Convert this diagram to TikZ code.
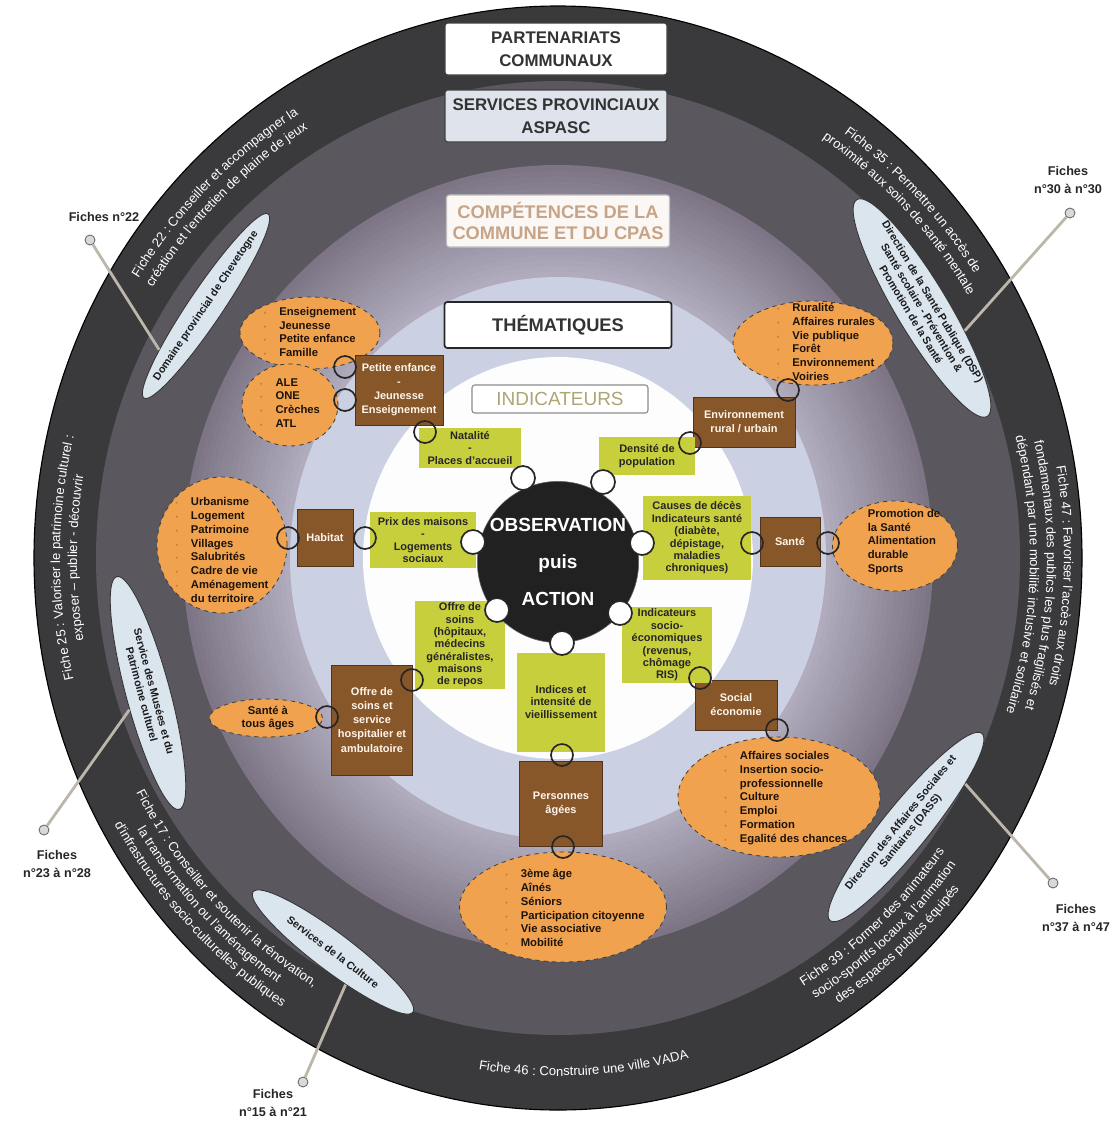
\documentclass[tikz,border=0pt]{standalone}
\usepackage{fontspec}
\setmainfont{Liberation Sans}
\usetikzlibrary{shapes.geometric}
\usetikzlibrary{decorations.text}

\definecolor{outerring}{HTML}{3A3A3D}
\definecolor{provring}{HTML}{5A585E}
\definecolor{compout}{HTML}{7D7586}
\definecolor{compin}{HTML}{B3AFC0}
\definecolor{themring}{HTML}{CBD0E2}
\definecolor{orangeell}{HTML}{F0A24F}
\definecolor{brownbox}{HTML}{87572A}
\definecolor{greenbox}{HTML}{C8CF3D}
\definecolor{bluesvc}{HTML}{DAE5EE}
\definecolor{svcgray}{HTML}{DFE4EC}
\definecolor{comptext}{HTML}{C7A487}
\definecolor{indictext}{HTML}{AEA574}
\definecolor{pincol}{HTML}{BDB6AA}
\definecolor{bulletc}{HTML}{C08040}

\newcommand{\pxu}{0.025cm}
\newcommand{\listfont}{\bfseries\fontsize{8}{9.8}\selectfont}
\newcommand{\boxfont}{\bfseries\fontsize{7.8}{10}\selectfont}
\newcommand{\greenfont}{\bfseries\fontsize{7.8}{8.8}\selectfont}
\newcommand{\svcfont}{\bfseries\fontsize{7.6}{9}\selectfont}
\newcommand{\pinfont}{\bfseries\fontsize{9}{13}\selectfont}
\newcommand{\fichefont}{\fontsize{9.3}{11}\selectfont}
\newcommand{\itm}[1]{\makebox[11pt][l]{\textcolor{bulletc}{\fontsize{5}{5}\selectfont\textbullet}}#1}
\newcommand{\fichearc}[5]{\path[decorate, decoration={text along path, text align=center, text={|\fichefont\color{white}|#5}}] (#1:#3 and #4) arc[start angle=#1, end angle=#2, x radius=#3, y radius=#4];}

\tikzset{
  wd/.style={minimum width=#1*\pxu},
  ht/.style={minimum height=#1*\pxu},
  hdbox/.style={draw=black!75, line width=0.8pt, rounded corners=2pt, inner sep=0pt, align=center, text=black!80, font=\bfseries\fontsize{12}{16}\selectfont},
  orell/.style={ellipse, draw=black!75, dashed, line width=0.6pt, fill=orangeell, inner sep=0pt},
  orlist/.style={align=left, inner sep=0pt, text=black!85!brown, font=\listfont},
  brbox/.style={rectangle, draw=brownbox!60!black, line width=0.6pt, fill=brownbox, align=center, inner sep=1pt, text=white!92!orange, font=\boxfont},
  grbox/.style={rectangle, fill=greenbox, align=center, inner sep=1pt, text=black!85, font=\greenfont},
  lnk/.style={circle, draw=black!85, line width=1.2pt, minimum size=22*\pxu, inner sep=0pt},
  wdot/.style={circle, draw=black!85, fill=white, line width=1.2pt, minimum size=24*\pxu, inner sep=0pt},
  svcell/.style={ellipse, draw=black!80, line width=0.6pt, fill=bluesvc, inner sep=0pt},
  svctext/.style={align=center, inner sep=0pt, text=black!90, font=\svcfont},
  pinlbl/.style={align=center, inner sep=0pt, text=black!85, font=\pinfont},
  pinline/.style={line width=2pt, draw=pincol},
  pinhead/.style={circle, draw=black!60, fill=black!15, line width=0.6pt, minimum size=10*\pxu, inner sep=0pt}
}

\begin{document}
\begin{tikzpicture}[x=0.025cm, y=-0.025cm]
\useasboundingbox (0,0) rectangle (1113,1126);
\fill[white] (0,0) rectangle (1113,1126);

% rings
\filldraw[fill=outerring, draw=black, line width=0.8pt] (558,558) ellipse [x radius=524, y radius=552];
\fill[provring] (558,558) ellipse [x radius=462, y radius=477];
\foreach \k in {0,...,19} {
  \pgfmathsetmacro{\rxk}{375-5.35*\k}
  \pgfmathsetmacro{\ryk}{393-5.6*\k}
  \pgfmathtruncatemacro{\mk}{5*\k}
  \fill[compin!\mk!compout] (558,558) ellipse [x radius=\rxk, y radius=\ryk];
}
\fill[themring] (558,558) ellipse [x radius=268, y radius=281];
\fill[white!96!themring] (558,558) ellipse [x radius=195, y radius=201];

% fiches on the outer ring
\begin{scope}[shift={(558,558)}, y=0.025cm]
  \fichearc{172}{96}{498}{519}{Fiche 22 : Conseiller et accompagner la}
  \fichearc{172}{96}{481}{502}{création et l'entretien de plaine de jeux}
  \fichearc{82}{7}{498}{519}{Fiche 35 : Permettre un accès de}
  \fichearc{82}{7}{481}{502}{proximité aux soins de santé mentale}
  \fichearc{30}{-34}{506}{527}{Fiche 47 : Favoriser l'accès aux droits}
  \fichearc{30}{-34}{489}{510}{fondamentaux des publics les plus fragilisés et}
  \fichearc{30}{-34}{472}{493}{dépendant par une mobilité inclusive et solidaire}
  \fichearc{215}{145}{498}{519}{Fiche 25 : Valoriser le patrimoine culturel :}
  \fichearc{215}{145}{481}{502}{exposer – publier - découvrir}
  \fichearc{186}{262}{478}{499}{Fiche 17 : Conseiller et soutenir la rénovation,}
  \fichearc{186}{262}{495}{516}{la transformation ou l'aménagement}
  \fichearc{186}{262}{512}{533}{d'infrastructures socio-culturelles publiques}
  \fichearc{-86}{-10}{478}{499}{Fiche 39 : Former des animateurs}
  \fichearc{-86}{-10}{495}{516}{socio-sportifs locaux à l'animation}
  \fichearc{-86}{-10}{512}{533}{des espaces publics équipés}
  \fichearc{-117}{-57}{497}{518}{Fiche 46 : Construire une ville VADA}
\end{scope}

% headers
\node[hdbox, fill=white, wd=222, ht=52] (part) at (556,49) {PARTENARIATS\\COMMUNAUX};
\node[hdbox, fill=svcgray, wd=222, ht=52] (prov) at (556,116) {SERVICES PROVINCIAUX\\ASPASC};
\node[hdbox, draw=black!25, fill=white!94!brown, text=comptext, wd=223, ht=52, font=\bfseries\fontsize{13}{15.6}\selectfont] (comp) at (558,221) {COMPÉTENCES DE LA\\COMMUNE ET DU CPAS};
\node[hdbox, line width=1.2pt, draw=black!85, fill=white, wd=227, ht=46, font=\bfseries\fontsize{13}{15}\selectfont] (them) at (558,325) {THÉMATIQUES};
\node[hdbox, draw=black!45, fill=white, text=indictext, wd=176, ht=28, font=\fontsize{13.5}{15}\selectfont] (indic) at (560,399) {INDICATEURS};

% services (blue ellipses)
\node[svcell, wd=222, ht=34, rotate=56] (s1) at (206,306) {};
\node[svctext, rotate=56] (s1t) at (s1) {Domaine provincial de Chevetogne};
\node[svcell, wd=253, ht=52, rotate=-59] (s2) at (922,308) {};
\node[svctext, rotate=-59] (s2t) at (s2) {Direction de la Santé Publique (DSP)\\Santé scolaire - Prévention \&\\Promotion de la Santé};
\node[svcell, wd=241, ht=44, rotate=-75] (s3) at (148,693) {};
\node[svctext, rotate=-75] (s3t) at (s3) {Service des Musées et du\\Patrimoine culturel};
\node[svcell, wd=200, ht=38, rotate=-37] (s4) at (333,952) {};
\node[svctext, rotate=-37] (s4t) at (s4) {Services de la Culture};
\node[svcell, wd=241, ht=46, rotate=51] (s5) at (906,827) {};
\node[svctext, rotate=51] (s5t) at (s5) {Direction des Affaires Sociales et\\Sanitaires (DASS)};

% pins
\node[pinhead] (h22) at (90,240) {};
\node[pinhead] (h30) at (1070,213) {};
\node[pinhead] (h23) at (44,830) {};
\node[pinhead] (h15) at (303,1082) {};
\node[pinhead] (h37) at (1053,883) {};
\draw[pinline] (s1.167) -- (h22);
\draw[pinline] (s2.31) -- (h30);
\draw[pinline] (s3.297) -- (h23);
\draw[pinline] (s4.328) -- (h15);
\draw[pinline] (s5.345) -- (h37);
\node[pinlbl] (f22) at (104,217) {Fiches n°22};
\node[pinlbl] (f30) at (1068,180) {Fiches\\n°30 à n°30};
\node[pinlbl] (f23) at (57,864) {Fiches\\n°23 à n°28};
\node[pinlbl] (f15) at (273,1103) {Fiches\\n°15 à n°21};
\node[pinlbl] (f37) at (1076,918) {Fiches\\n°37 à n°47};

% orange ellipses
\node[orell, wd=140, ht=72] (e1) at (310,333) {};
\node[orell, wd=96, ht=82] (e2) at (290,405) {};
\node[orell, wd=130, ht=136] (e3) at (222,545) {};
\node[orell, wd=113, ht=38] (e4) at (266,718) {};
\node[orell, wd=160, ht=84] (e5) at (813,343) {};
\node[orell, wd=125, ht=90] (e6) at (895,546) {};
\node[orell, wd=202, ht=120] (e7) at (779,797) {};
\node[orell, wd=207, ht=110] (e8) at (563,907) {};
\node[orlist] (e1t) at (310,332) {\itm{Enseignement}\\\itm{Jeunesse}\\\itm{Petite enfance}\\\itm{Famille}};
\node[orlist] (e2t) at (290,403) {\itm{ALE}\\\itm{ONE}\\\itm{Crèches}\\\itm{ATL}};
\node[orlist] (e3t) at (222,550) {\itm{Urbanisme}\\\itm{Logement}\\\itm{Patrimoine}\\\itm{Villages}\\\itm{Salubrités}\\\itm{Cadre de vie}\\\itm{Aménagement}\\\hspace*{11pt}du territoire};
\node[orlist, align=center] (e4t) at (268,718) {Santé à\\tous âges};
\node[orlist] (e5t) at (826,342) {\itm{Ruralité}\\\itm{Affaires rurales}\\\itm{Vie publique}\\\itm{Forêt}\\\itm{Environnement}\\\itm{Voiries}};
\node[orlist] (e6t) at (904,542) {Promotion de\\la Santé\\Alimentation\\durable\\Sports};
\node[orlist] (e7t) at (786,798) {\itm{Affaires sociales}\\\itm{Insertion socio-}\\\hspace*{11pt}professionnelle\\\itm{Culture}\\\itm{Emploi}\\\itm{Formation}\\\itm{Egalité des chances}};
\node[orlist] (e8t) at (575,908) {\itm{3ème âge}\\\itm{Aînés}\\\itm{Séniors}\\\itm{Participation citoyenne}\\\itm{Vie associative}\\\itm{Mobilité}};

% thematiques (brown)
\node[brbox, wd=88, ht=70] (b1) at (399,390) {Petite enfance\\-\\Jeunesse\\Enseignement};
\node[brbox, wd=102, ht=50] (b2) at (744,422) {Environnement\\rural / urbain};
\node[brbox, wd=56, ht=57] (b3) at (325,538) {Habitat};
\node[brbox, wd=60, ht=49] (b4) at (790,542) {Santé};
\node[brbox, wd=81, ht=110] (b5) at (372,720) {Offre de\\soins et\\service\\hospitalier et\\ambulatoire};
\node[brbox, wd=82, ht=50] (b6) at (736,705) {Social\\économie};
\node[brbox, wd=83, ht=85] (b7) at (561,804) {Personnes\\âgées};

% indicateurs (green)
\node[grbox, wd=102, ht=40] (g1) at (470,448) {Natalité\\-\\Places d'accueil};
\node[grbox, wd=96, ht=38] (g2) at (647,456) {Densité de\\population};
\node[grbox, wd=106, ht=56] (g3) at (423,540) {Prix des maisons\\-\\Logements\\sociaux};
\node[grbox, wd=108, ht=84] (g4) at (697,538) {Causes de décès\\Indicateurs santé\\(diabète,\\dépistage,\\maladies\\chroniques)};
\node[grbox, wd=90, ht=86] (g5) at (460,645) {Offre de\\soins\\(hôpitaux,\\médecins\\généralistes,\\maisons\\de repos};
\node[grbox, wd=90, ht=76] (g6) at (667,645) {Indicateurs\\socio-\\économiques\\(revenus,\\chômage\\RIS)};
\node[grbox, wd=88, ht=99] (g7) at (561,702) {Indices et\\intensité de\\vieillissement};

% centre
\node[circle, fill=black!87, draw=black!60, minimum size=156*\pxu, inner sep=0pt, text=white, align=center, font=\bfseries\fontsize{13.5}{26.3}\selectfont] (obs) at (558,562) {OBSERVATION\\puis\\ACTION};
\node[wdot] (w1) at (523,478) {};
\node[wdot] (w2) at (603,482) {};
\node[wdot] (w3) at (473,542) {};
\node[wdot] (w4) at (642,543) {};
\node[wdot] (w5) at (497,610) {};
\node[wdot] (w6) at (620,613) {};
\node[wdot] (w7) at (562,643) {};

% links
\node[lnk] (k1) at (345,367) {};
\node[lnk] (k2) at (345,400) {};
\node[lnk] (k3) at (425,432) {};
\node[lnk] (k4) at (288,538) {};
\node[lnk] (k5) at (365,538) {};
\node[lnk] (k6) at (690,443) {};
\node[lnk] (k7) at (788,390) {};
\node[lnk] (k8) at (752,543) {};
\node[lnk] (k9) at (828,543) {};
\node[lnk] (k10) at (412,680) {};
\node[lnk] (k11) at (327,717) {};
\node[lnk] (k12) at (700,678) {};
\node[lnk] (k13) at (777,730) {};
\node[lnk] (k14) at (562,755) {};
\node[lnk] (k15) at (563,847) {};

\end{tikzpicture}
\end{document}
